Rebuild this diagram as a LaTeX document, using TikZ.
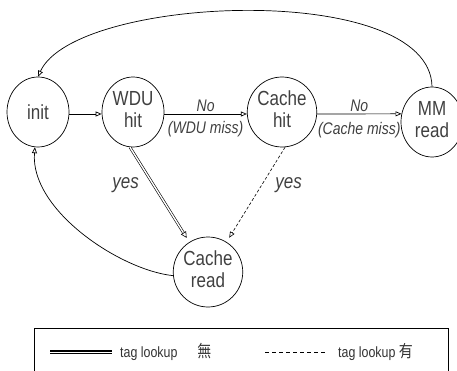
\documentclass[tikz,border=0pt]{standalone}
\usepackage{fontspec}
\usepackage{graphicx}
\setmainfont{Liberation Sans}
\newfontfamily\cjkfont{Noto Sans CJK TC}
\usetikzlibrary{arrows.meta,shapes.geometric}
\newcommand{\vtxt}[1]{\scalebox{1}[1.2]{#1}}
\begin{document}
\begin{tikzpicture}[x=1pt,y=-1pt,
  state/.style={ellipse, draw=black, line width=0.7pt, minimum width=62pt, minimum height=70pt, inner sep=0pt, text=black!75, font=\fontsize{17}{19}\selectfont},
  arr/.style={line width=0.7pt, -{Triangle[open,length=6pt,width=5pt]}},
  dbl/.style={line width=0.6pt, double distance=1.4pt},
  dsh/.style={line width=0.6pt, dash pattern=on 3pt off 2pt},
  lab/.style={font=\fontsize{14}{16}\selectfont\itshape, inner sep=0pt, text=black!75},
  yeslab/.style={font=\fontsize{17}{19}\selectfont\itshape, inner sep=0pt, text=black!75},
  legtxt/.style={font=\fontsize{12.4}{14}\selectfont, inner sep=0pt, anchor=west, text=black!80},
]
\useasboundingbox (0,0) rectangle (457,371);
\clip (0,0) rectangle (457,371);

\node[state] (init) at (38,112) {\vtxt{init}};
\node[state] (WDU) at (133,112) {\vtxt{\begin{tabular}{@{}c@{}}WDU\\hit\end{tabular}}};
\node[state] (CH) at (282,112) {\vtxt{\begin{tabular}{@{}c@{}}Cache\\hit\end{tabular}}};
\node[state] (MM) at (432,122) {\vtxt{\begin{tabular}{@{}c@{}}MM\\read\end{tabular}}};
\node[state] (CR) at (208,272) {\vtxt{\begin{tabular}{@{}c@{}}Cache\\read\end{tabular}}};

\draw[arr] ([yshift=-2pt]init.east) -- ([yshift=-2pt]WDU.west);
\draw[arr] ([yshift=-2pt]WDU.east) -- ([yshift=-2pt]CH.west)
  node[lab, midway, yshift=8pt] {\vtxt{No}}
  node[lab, midway, yshift=-15pt] {\vtxt{(WDU miss)}};
\draw[arr] ([yshift=-2pt]CH.east) -- (MM.165)
  node[lab, midway, yshift=8pt] {\vtxt{No}}
  node[lab, midway, yshift=-16pt] {\vtxt{(Cache miss)}};

\draw[arr] (MM.north) .. controls (430,-20) and (75,-5) .. (init.north);
\draw[arr] (CR.186) .. controls (120,270) and (30,210) .. (init.265);

\draw[dbl, -{Triangle[open,length=6pt,width=6pt]}, shorten >=5pt] (WDU.265) -- (CR)
  node[yeslab, pos=0.4, xshift=-28pt] {\vtxt{yes}};
\draw[dsh, -{Triangle[open,length=6pt,width=5pt]}, shorten >=5pt] (CH.275) -- (CR)
  node[yeslab, pos=0.4, xshift=27pt] {\vtxt{yes}};

% legend
\draw[line width=0.7pt] (34,328) rectangle (448,390);
\coordinate (l1a) at (50,352);
\coordinate (l1b) at (112,352);
\coordinate (l2a) at (265,352);
\coordinate (l2b) at (325,352);
\draw[line width=1.1pt, double distance=0.9pt] (l1a) -- (l1b);
\draw[line width=0.6pt, dash pattern=on 4pt off 3pt] (l2a) -- (l2b);
\node[legtxt] (t1) at (120,352) {\vtxt{tag lookup\hspace{20pt}{\cjkfont\fontsize{14}{16}\selectfont 無}}};
\node[legtxt] (t2) at (338,352) {\vtxt{tag lookup {\cjkfont\fontsize{14}{16}\selectfont 有}}};
\end{tikzpicture}
\end{document}
